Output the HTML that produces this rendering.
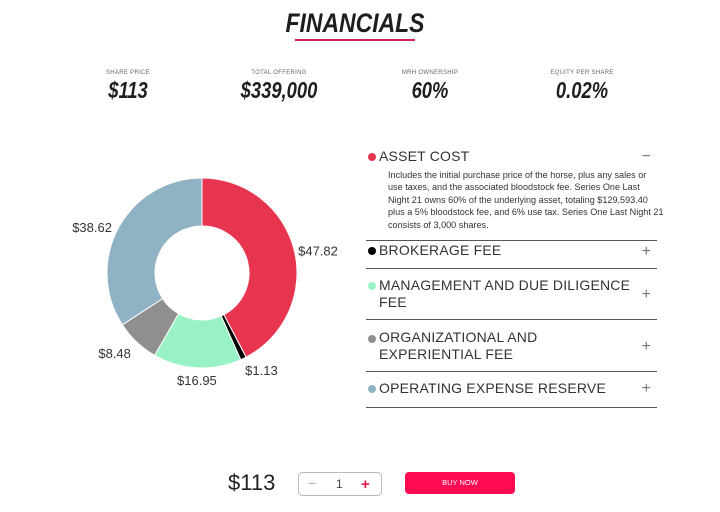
<!DOCTYPE html>
<html><head><meta charset="utf-8">
<style>
body{margin:0;width:720px;height:512px;background:#fff;font-family:"Liberation Sans",sans-serif;color:#222;position:relative;overflow:hidden}
.abs{position:absolute}
.title{left:0;width:710px;top:8px;text-align:center;font-size:27px;font-weight:bold;font-style:italic;transform:scaleX(0.85);transform-origin:355px 0;color:#1e1e1e}
.uline{left:295px;width:120px;top:39px;height:2px;background:#d6205c}
.stat{width:140px;text-align:center}
.stat .l{font-size:6px;color:#666;letter-spacing:.3px}
.stat .v{font-size:23px;font-weight:bold;font-style:italic;transform:scaleX(.8);margin-top:1px;color:#1e1e1e}
.row{left:366px;width:291px;border-bottom:1px solid #555}
.row .dot{position:absolute;left:2px;width:8px;height:8px;border-radius:50%}
.row .t{position:absolute;left:13px;font-size:14px;color:#333;line-height:17px;letter-spacing:.2px}
.row .s{position:absolute;right:6px;font-size:16px;color:#777}
.desc{left:388px;top:169px;font-size:9.1px;line-height:12.4px;color:#333;white-space:nowrap}
</style></head><body>
<div class="abs title">FINANCIALS</div>
<div class="abs uline"></div>

<div class="abs stat" style="left:58px;top:70px"><div class="l">SHARE PRICE</div><div class="v">$113</div></div>
<div class="abs stat" style="left:209px;top:70px"><div class="l">TOTAL OFFERING</div><div class="v">$339,000</div></div>
<div class="abs stat" style="left:360px;top:70px"><div class="l">MRH OWNERSHIP</div><div class="v">60%</div></div>
<div class="abs stat" style="left:512px;top:70px"><div class="l">EQUITY PER SHARE</div><div class="v">0.02%</div></div>

<svg class="abs" style="left:0;top:0" width="360" height="420">
<g id="slices"></g><g id="labels"></g>
</svg>

<div class="abs row" style="top:144px;height:96px">
<div class="dot" style="top:9px;background:#e8354f"></div><div class="t" style="top:4px">ASSET COST</div><div class="s" style="top:4px">−</div></div>
<div class="abs desc">Includes the initial purchase price of the horse, plus any sales or<br>use taxes, and the associated bloodstock fee. Series One Last<br>Night 21 owns 60% of the underlying asset, totaling $129,593.40<br>plus a 5% bloodstock fee, and 6% use tax. Series One Last Night 21<br>consists of 3,000 shares.</div>
<div class="abs row" style="top:241px;height:27px">
<div class="dot" style="top:6px;background:#000"></div><div class="t" style="top:1px">BROKERAGE FEE</div><div class="s" style="top:2px">+</div></div>
<div class="abs row" style="top:269px;height:50px">
<div class="dot" style="top:13px;background:#98f2c3"></div><div class="t" style="top:8px">MANAGEMENT AND DUE DILIGENCE<br>FEE</div><div class="s" style="top:17px">+</div></div>
<div class="abs row" style="top:320px;height:51px">
<div class="dot" style="top:15px;background:#8f8f8f"></div><div class="t" style="top:9px">ORGANIZATIONAL AND<br>EXPERIENTIAL FEE</div><div class="s" style="top:18px">+</div></div>
<div class="abs row" style="top:372px;height:35px">
<div class="dot" style="top:13px;background:#8fb3c5"></div><div class="t" style="top:8px">OPERATING EXPENSE RESERVE</div><div class="s" style="top:8px">+</div></div>

<div class="abs" style="left:228px;top:470px;font-size:22px;color:#222">$113</div>
<div class="abs" style="left:298px;top:472px;width:82px;height:22px;border:1px solid #bbb;border-radius:4px">
<span class="abs" style="left:9px;top:2px;font-size:14px;color:#aaa">−</span>
<span class="abs" style="left:37px;top:4px;font-size:12px;color:#444">1</span>
<span class="abs" style="left:62px;top:3px;font-size:15px;font-weight:bold;color:#e8154f">+</span></div>
<div class="abs" style="left:405px;top:472px;width:110px;height:22px;background:#fc0a52;border-radius:4px;color:#fff;font-size:7.5px;text-align:center;line-height:22px">BUY NOW</div>

<script>
const categories=["Asset Cost","Brokerage Fee","Management Fee","Organizational Fee","Operating Reserve"];
const values=[47.82,1.13,16.95,8.48,38.62];
const valueLabels=["$47.82","$1.13","$16.95","$8.48","$38.62"];
const colors=["#e8354f","#000000","#98f2c3","#8f8f8f","#8fb3c5"];
const cx=202,cy=273,ro=95,ri=47;
const ns="http://www.w3.org/2000/svg";
const total=values.reduce((a,b)=>a+b,0);
function ang(v){return v/total*2*Math.PI;}
function pt(a,r){return [cx+r*Math.sin(a),cy-r*Math.cos(a)];}
let a0=0;
const gs=document.getElementById('slices'),gl=document.getElementById('labels');
values.forEach((v,i)=>{
 const a1=a0+ang(v);const large=(a1-a0)>Math.PI?1:0;
 const p1=pt(a0,ro),p2=pt(a1,ro),p3=pt(a1,ri),p4=pt(a0,ri);
 const p=document.createElementNS(ns,'path');
 p.setAttribute('d',`M${p1}A${ro},${ro} 0 ${large} 1 ${p2}L${p3}A${ri},${ri} 0 ${large} 0 ${p4}Z`);
 p.setAttribute('fill',colors[i]);p.setAttribute('stroke','#fff');p.setAttribute('stroke-width','1');
 
 
 gs.appendChild(p);
 const am=(a0+a1)/2;const lp=pt(am,99);
 const t=document.createElementNS(ns,'text');
 const s=Math.sin(am),c=Math.cos(am);
 t.setAttribute('x',lp[0]-(s<-0.3?3:0));t.setAttribute('y',lp[1]+6+(c<-0.5?7:0));
 t.setAttribute('text-anchor',s>0.3?'start':(s<-0.3?'end':'middle'));
 t.setAttribute('font-size','13');t.setAttribute('fill','#333');
 t.setAttribute('font-family','Liberation Sans, sans-serif');
 t.textContent=valueLabels[i];
 
 
 gl.appendChild(t);
 a0=a1;
});
</script>
</body></html>
